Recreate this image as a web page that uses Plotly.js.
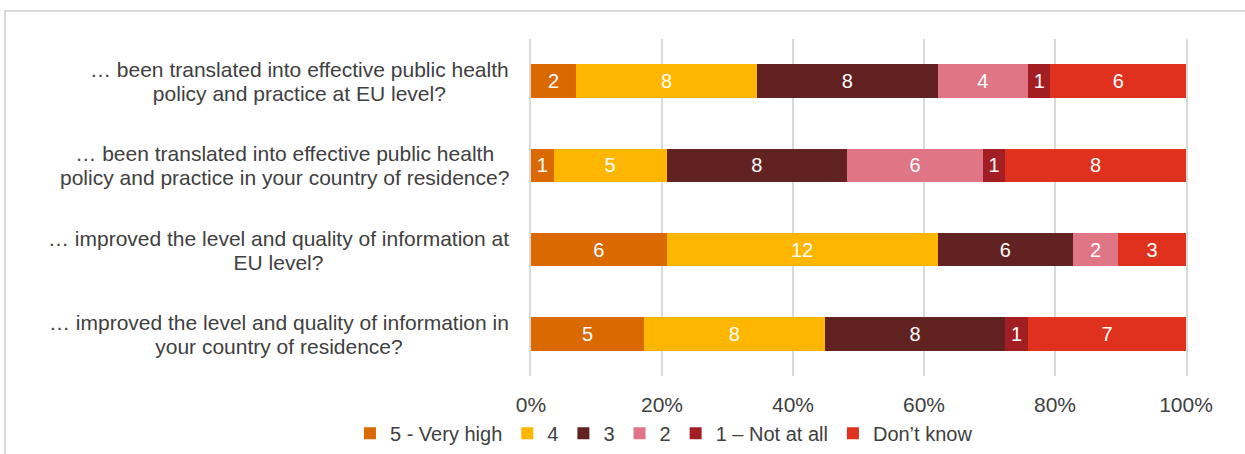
<!DOCTYPE html>
<html>
<head>
<meta charset="utf-8">
<script src="https://cdn.plot.ly/plotly-3.0.1.min.js"></script>
<style>
  html, body { margin:0; padding:0; background:#ffffff; overflow:hidden; }
  #frame { position:absolute; left:4px; top:10px; width:1400px; height:600px; border:2px solid #d9d9d9; box-sizing:border-box; }
  #chart { position:absolute; left:0; top:0; width:1245px; height:454px; }
</style>
</head>
<body>
<div id="frame"></div>
<div id="chart"></div>
<script>
const categories = [
  "… been translated into effective public health<br>policy and practice at EU level?",
  "… been translated into effective public health<br>policy and practice in your country of residence?",
  "… improved the level and quality of information at<br>EU level?",
  "… improved the level and quality of information in<br>your country of residence?"
];
const seriesNames = ["5 - Very high", "4", "3", "2", "1 – Not at all", "Don’t know"];
const v5 = [2, 1, 6, 5];
const v4 = [8, 5, 12, 8];
const v3 = [8, 8, 6, 8];
const v2 = [4, 6, 2, null];
const v1 = [1, 1, null, 1];
const vDK = [6, 8, 3, 7];
const tickVals = [0, 20, 40, 60, 80, 100];
const tickText = ["0%", "20%", "40%", "60%", "80%", "100%"];

const seriesValues = [v5, v4, v3, v2, v1, vDK];
const colors = ["#DA6A00", "#FFB600", "#622222", "#E07585", "#A21E23", "#E0311E"];
const FONT = "Liberation Sans, Arial, sans-serif";
const LABEL_SIZE = 21;

const traces = seriesValues.map((vals, i) => ({
  type: "bar",
  orientation: "h",
  name: seriesNames[i],
  y: categories,
  x: vals,
  text: vals.map(v => v == null ? "" : String(v)),
  texttemplate: "%{text}",
  textposition: "inside",
  insidetextanchor: "middle",
  textangle: 0,
  constraintext: "none",
  insidetextfont: { family: FONT, size: 20, color: "#ffffff" },
  marker: { color: colors[i], line: { width: 0 } },
  width: 0.4,
  hoverinfo: "skip"
}));

const annotations = categories.map(c => ({
  xref: "paper", yref: "y",
  x: 0, y: c,
  xanchor: "right", yanchor: "middle",
  xshift: -20,
  align: "center",
  showarrow: false,
  text: c,
  font: { family: FONT, size: LABEL_SIZE, color: "#404040" }
}));

const layout = {
  width: 1245, height: 454,
  margin: { l: 531, r: 59, t: 39, b: 78, pad: 0, autoexpand: false },
  paper_bgcolor: "rgba(0,0,0,0)",
  plot_bgcolor: "rgba(0,0,0,0)",
  barmode: "stack",
  barnorm: "percent",
  showlegend: true,
  legend: {
    orientation: "h",
    x: 0.203, xanchor: "center",
    y: -0.17, yanchor: "middle",
    font: { family: FONT, size: 20, color: "#404040" },
    traceorder: "normal",
    itemclick: false, itemdoubleclick: false
  },
  xaxis: {
    range: [0, 100],
    tickvals: tickVals,
    ticktext: tickText,
    showgrid: true,
    gridcolor: "#d9d9d9",
    gridwidth: 2,
    zeroline: false,
    showline: false,
    ticks: "",
    automargin: false,
    ticklabelstandoff: 14,
    tickfont: { family: FONT, size: 21, color: "#404040" },
    fixedrange: true
  },
  yaxis: {
    type: "category",
    autorange: "reversed",
    showticklabels: false,
    showgrid: false,
    zeroline: false,
    showline: true,
    mirror: true,
    linecolor: "#d9d9d9",
    linewidth: 2,
    ticks: "",
    automargin: false,
    fixedrange: true
  },
  annotations: annotations
};

// slightly tighter line spacing for the two-line category labels (1.15em instead of 1.3em)
function tightenLabels() {
  const LS = 1.15;
  document.querySelectorAll("#chart .annotation-text").forEach(t => {
    const lines = t.querySelectorAll("tspan.line");
    if (lines.length < 2) return;
    const n = lines.length;
    const shift = (n - 1) * (1.3 - LS) / 2 * LABEL_SIZE;
    lines.forEach((ln, k) => {
      ln.setAttribute("dy", (k * LS) + "em");
      const y = parseFloat(ln.getAttribute("y") || "0");
      ln.setAttribute("y", y + shift);
    });
  });
}

Plotly.newPlot("chart", traces, layout, { staticPlot: true, displayModeBar: false }).then(tightenLabels);
</script>
</body>
</html>
